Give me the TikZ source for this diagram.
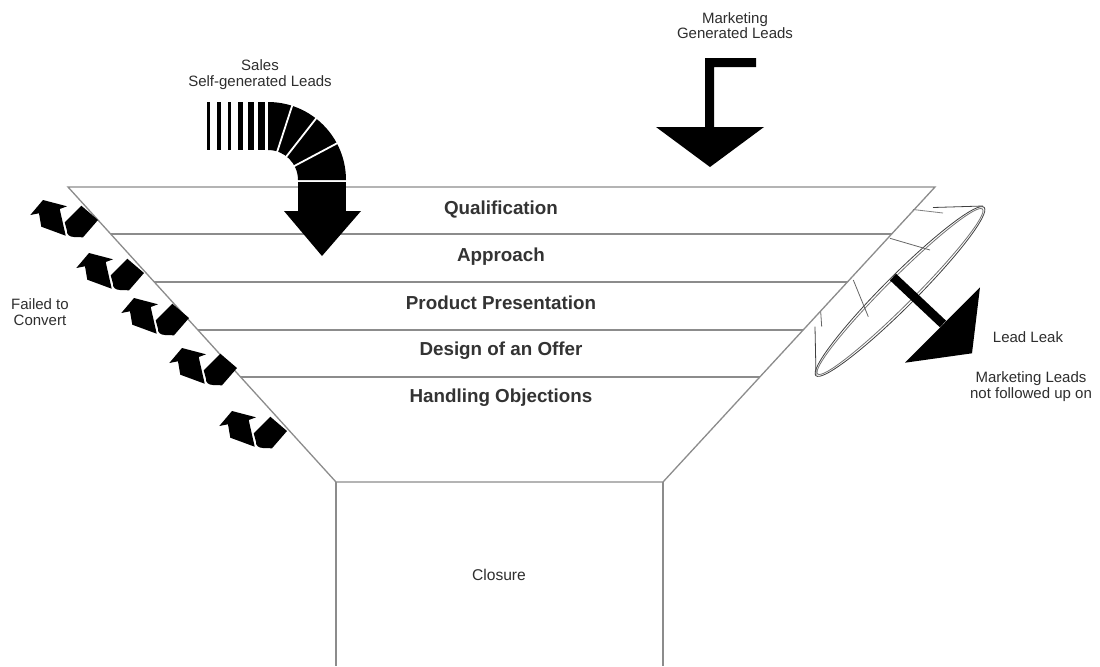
\documentclass[tikz,border=0pt]{standalone}
\usepackage{fontspec}
\setmainfont{Liberation Sans}
\usetikzlibrary{calc}
\begin{document}
\begin{tikzpicture}[x=0.5pt,y=-0.5pt,
  funnelline/.style={draw=black!45, line width=0.65pt},
  stagelabel/.style={text=black!80, inner sep=0pt, font=\bfseries\fontsize{9.4}{11}\selectfont},
  smalllabel/.style={text=black!82, inner sep=0pt, align=center, font=\fontsize{7.5}{8}\selectfont},
  solidshape/.style={fill=black, draw=none},
  gapline/.style={draw=white, line width=0.9pt},
  leakline/.style={draw=black!75, line width=0.4pt}]
\useasboundingbox (0,0) rectangle (1100,666);
\fill[white] (0,0) rectangle (1100,666);

% ---------- funnel outline ----------
\coordinate (tl) at (68,187);
\coordinate (tr) at (935,187);
\coordinate (bl) at (336,482);
\coordinate (br) at (663,482);
\coordinate (cbl) at (336,666);
\coordinate (cbr) at (663,666);
\draw[funnelline] (tl) -- (tr) -- (br) -- (bl) -- cycle;
\draw[funnelline] (bl) -- (cbl);
\draw[funnelline] (br) -- (cbr);
\foreach \t [count=\i] in {0.1593,0.3220,0.4847,0.6441}{
  \coordinate (l\i) at ($(tl)!\t!(bl)$);
  \coordinate (r\i) at ($(tr)!\t!(br)$);
  \draw[funnelline] (l\i) -- (r\i);
}

% ---------- stage labels ----------
\node[stagelabel] (qual)   at (501,210) {Qualification};
\node[stagelabel] (appr)   at (501,257) {Approach};
\node[stagelabel] (prod)   at (501,303) {Product Presentation};
\node[stagelabel] (design) at (501,351) {Design of an Offer};
\node[stagelabel] (handle) at (501,398) {Handling Objections};
\node[smalllabel, font=\fontsize{7.8}{9}\selectfont] (closure) at (499,575) {Closure};

% ---------- sales self-generated leads arrow ----------
\node[smalllabel] (sales) at (260,75) {Sales\\Self-generated Leads};
\foreach \a/\b in {207.3/210, 217.3/220.7, 227.7/230.7, 238.3/243.3, 248.3/254, 258.3/265}
  \fill[solidshape] (\a,101.7) rectangle (\b,150);
\coordinate (sc) at (268,180);
\fill[solidshape] (268,102) arc[start angle=-90, end angle=0, radius=78]
  -- (298,180) arc[start angle=0, end angle=-90, radius=30] -- cycle;
\foreach \ang in {-72,-52,-28}
  \draw[gapline] ($(sc)+(\ang:28)$) -- ($(sc)+(\ang:80)$);
\fill[solidshape] (297.5,182) rectangle (346,211.5);
\fill[solidshape] (284,211) -- (361,211) -- (322,256) -- cycle;

% ---------- marketing generated leads arrow ----------
\node[smalllabel, font=\fontsize{7.5}{7.2}\selectfont] (mkt) at (735,25.5) {Marketing\\Generated Leads};
\fill[solidshape] (705,58) -- (756,58) -- (756,67) -- (714,67) -- (714,127)
  -- (764,127) -- (710,167) -- (656,127) -- (705,127) -- cycle;

% ---------- failed to convert: u-turn arrows along the left wall ----------
\node[smalllabel] (failed) at (40,312) {Failed to\\Convert};
\foreach \px/\py in {43/200, 89/253, 134/298, 182/348, 232/411}{
  \begin{scope}[shift={(\px,\py)}]
    \fill[solidshape] (0,0) -- (24,6.3) -- (16.7,9) -- (22.7,35.7) -- (-1.7,26.7)
      -- (-4,13.3) -- (-12.7,15) -- cycle;
    \fill[solidshape] (21.7,22.3) -- (38.3,5.7) -- (55,20) -- (40,37.3) -- (31,37)
      .. controls (26,36.8) and (23.5,34) .. (24,30.7) -- cycle;
  \end{scope}
}

% ---------- lead leak ----------
\coordinate (lk) at (900,291.5);
\draw[leakline, rotate around={45:(lk)}] (lk) ellipse [x radius=59.5pt, y radius=8pt];
\draw[leakline, draw=black!55, rotate around={45:(lk)}] (lk) ellipse [x radius=58.3pt, y radius=6.8pt];
\draw[leakline] (933,207.5) -- (983,206);
\draw[leakline, draw=black!50] (913,209.5) -- (943,213);
\draw[leakline, draw=black!60] (890,238.3) -- (930,250);
\draw[leakline, draw=black!60] (853.3,280) -- (868.3,316.7);
\draw[leakline, draw=black!60] (820.7,311.7) -- (821.7,326.7);
\draw[leakline] (815,326.7) -- (816,375);
\draw[black, line width=4.5pt] (893,277) -- (943,324);
\fill[solidshape] (980,287.3) -- (972,353.3) -- (905,362.7) -- cycle;
\node[smalllabel] (leak) at (1028,337) {Lead Leak};
\node[smalllabel] (leaknote) at (1031,387) {Marketing Leads\\not followed up on};
\end{tikzpicture}
\end{document}
